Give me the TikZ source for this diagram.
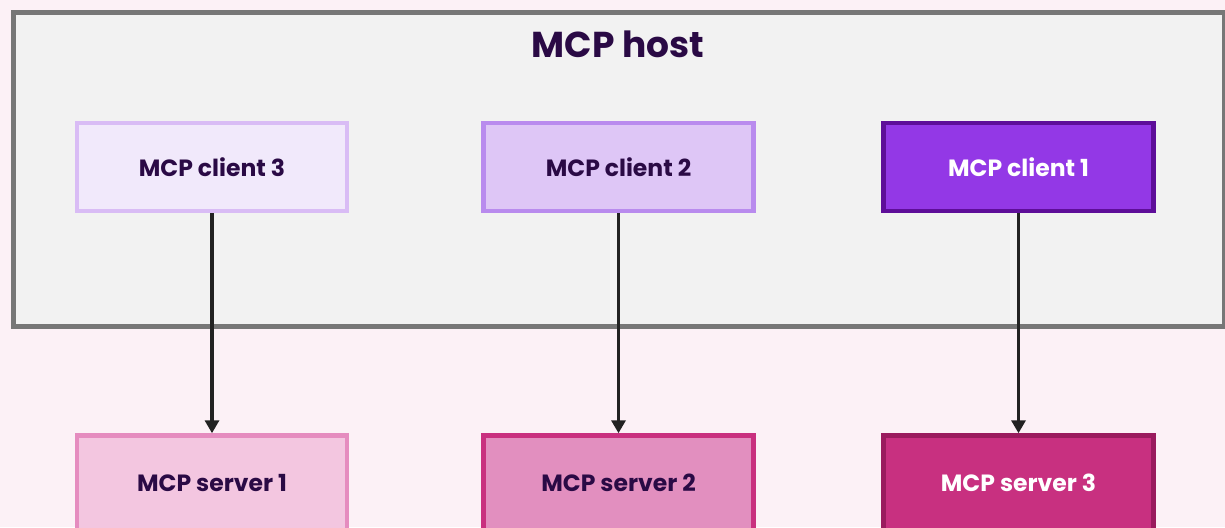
\documentclass[tikz,border=0pt]{standalone}
\usepackage{fontspec}
\setmainfont{Poppins}
\usetikzlibrary{arrows.meta}
\definecolor{pagebg}{HTML}{FCF1F6}
\definecolor{hostfill}{HTML}{F2F2F2}
\definecolor{hostline}{HTML}{777777}
\definecolor{darktext}{HTML}{2A0A45}
\definecolor{cthreefill}{HTML}{F1E9FB}
\definecolor{cthreeline}{HTML}{D9BCF5}
\definecolor{ctwofill}{HTML}{DEC6F6}
\definecolor{ctwoline}{HTML}{B98BEE}
\definecolor{conefill}{HTML}{9338E6}
\definecolor{coneline}{HTML}{5E0E99}
\definecolor{sonefill}{HTML}{F3C6E0}
\definecolor{soneline}{HTML}{E58CBF}
\definecolor{stwofill}{HTML}{E28FBF}
\definecolor{stwoline}{HTML}{C9307F}
\definecolor{sthreefill}{HTML}{C83080}
\definecolor{sthreeline}{HTML}{9A1B5E}
\definecolor{arrowcol}{HTML}{222222}
\tikzset{
  box/.style={rectangle, line width=4.5pt, minimum width=270pt, minimum height=88pt,
    inner sep=0pt, font=\fontsize{23.5}{28}\selectfont\bfseries, text=darktext},
  link/.style={draw=arrowcol, line width=3.5pt, -{Triangle[length=13pt,width=14pt]}}
}
\begin{document}
\begin{tikzpicture}[x=1pt,y=-1pt]
\useasboundingbox (0,0) rectangle (1225,527);
\clip (0,0) rectangle (1225,527);
\fill[pagebg] (0,0) rectangle (1225,527);
\node[draw=hostline, fill=hostfill, line width=5pt, minimum width=1211pt, minimum height=313pt, inner sep=0pt, anchor=north west] (host) at (11,10.5) {};
\node[font=\fontsize{36}{42}\selectfont\bfseries, text=darktext] (title) at (618,44) {MCP host};
\node[box, draw=cthreeline, fill=cthreefill] (c3) at (212,167) {MCP client 3};
\node[box, draw=ctwoline, fill=ctwofill] (c2) at (618.5,167) {MCP client 2};
\node[box, draw=coneline, fill=conefill, text=white] (c1) at (1018.5,167) {MCP client 1};
\node[box, draw=soneline, fill=sonefill, minimum height=95pt] (s1) at (212,483) {MCP server 1};
\node[box, draw=stwoline, fill=stwofill, minimum height=95pt] (s2) at (618.5,483) {MCP server 2};
\node[box, draw=sthreeline, fill=sthreefill, text=white, minimum height=95pt] (s3) at (1018.5,483) {MCP server 3};
\draw[link] (c3.south) -- (s1.north);
\draw[link] (c2.south) -- (s2.north);
\draw[link] (c1.south) -- (s3.north);
\end{tikzpicture}
\end{document}
